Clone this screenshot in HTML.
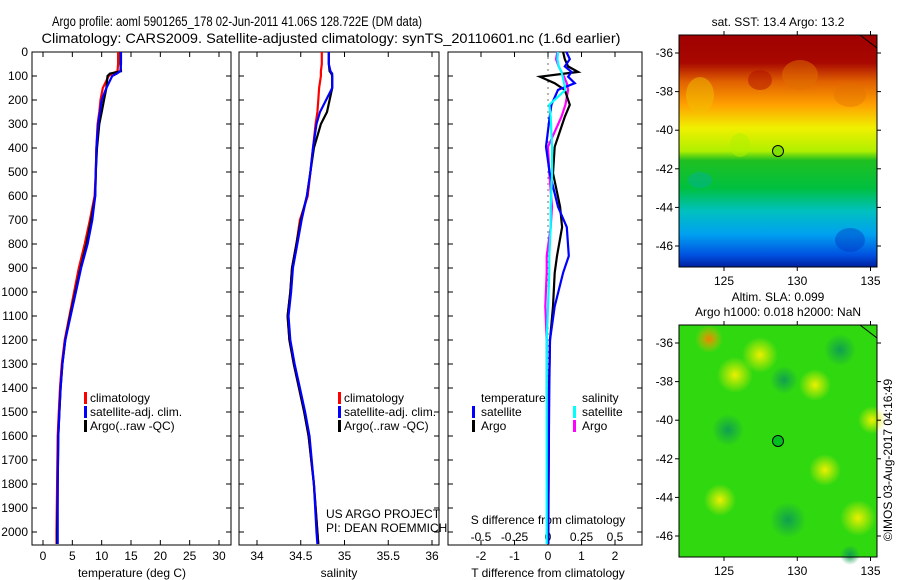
<!DOCTYPE html>
<html><head><meta charset="utf-8"><style>
html,body{margin:0;padding:0;background:#fff;}
svg{display:block;font-family:"Liberation Sans",sans-serif;}
</style></head><body>
<svg id="fig" width="900" height="580" viewBox="0 0 900 580">
<defs>
<linearGradient id="sstgrad" x1="0" y1="0" x2="0" y2="1">
<stop offset="0" stop-color="#a00000"/><stop offset="0.12" stop-color="#a80800"/>
<stop offset="0.2" stop-color="#e06000"/><stop offset="0.3" stop-color="#ffa000"/>
<stop offset="0.4" stop-color="#f0f000"/><stop offset="0.5" stop-color="#b0f000"/>
<stop offset="0.54" stop-color="#20c020"/><stop offset="0.66" stop-color="#00c040"/>
<stop offset="0.76" stop-color="#00c0c0"/><stop offset="0.86" stop-color="#00a0f0"/>
<stop offset="0.95" stop-color="#0050e0"/><stop offset="1" stop-color="#0020a0"/>
</linearGradient>
<radialGradient id="yb"><stop offset="0" stop-color="#eaf000"/><stop offset="1" stop-color="#eaf000" stop-opacity="0"/></radialGradient>
<radialGradient id="gb"><stop offset="0" stop-color="#10a050"/><stop offset="1" stop-color="#10a050" stop-opacity="0"/></radialGradient>
<radialGradient id="ob"><stop offset="0" stop-color="#f08000"/><stop offset="1" stop-color="#f0c000" stop-opacity="0"/></radialGradient>
</defs>
<text x="237" y="26" font-size="14" text-anchor="middle" textLength="370" lengthAdjust="spacingAndGlyphs">Argo profile: aoml 5901265_178 02-Jun-2011 41.06S 128.722E (DM data)</text>
<text x="331" y="43" font-size="14" text-anchor="middle" textLength="579" lengthAdjust="spacingAndGlyphs">Climatology: CARS2009. Satellite-adjusted climatology: synTS_20110601.nc (1.6d earlier)</text>
<g id="plots"></g>
<!-- SST map -->
<g>
<text x="778" y="26" font-size="12" text-anchor="middle">sat. SST: 13.4 Argo: 13.2</text>
<rect x="679" y="35" width="198" height="232" fill="url(#sstgrad)"/>
<ellipse cx="700" cy="95" rx="14" ry="18" fill="#f0c000" opacity="0.5"/>
<ellipse cx="800" cy="75" rx="18" ry="15" fill="#e07000" opacity="0.5"/>
<ellipse cx="760" cy="80" rx="12" ry="10" fill="#b01000" opacity="0.5"/>
<ellipse cx="850" cy="95" rx="16" ry="12" fill="#e07000" opacity="0.4"/>
<ellipse cx="700" cy="180" rx="12" ry="8" fill="#00b0b0" opacity="0.4"/>
<ellipse cx="850" cy="240" rx="15" ry="12" fill="#0030c0" opacity="0.4"/>
<ellipse cx="740" cy="145" rx="10" ry="12" fill="#b0f000" opacity="0.5"/>
<line x1="860" y1="35" x2="877" y2="48" stroke="#000" stroke-width="1"/>
<circle cx="778" cy="151" r="5.5" fill="#80e000" stroke="#000" stroke-width="1"/>
<rect x="679" y="35" width="198" height="232" fill="none" stroke="#000"/>
</g>
<!-- SLA map -->
<g>
<text x="778" y="301" font-size="12" text-anchor="middle">Altim. SLA: 0.099</text>
<text x="778" y="316" font-size="12" text-anchor="middle">Argo h1000: 0.018 h2000: NaN</text>
<rect x="679" y="325" width="198" height="232" fill="#30d810"/>
<circle cx="709" cy="339" r="14" fill="url(#ob)"/>
<circle cx="760" cy="355" r="18" fill="url(#yb)"/>
<circle cx="815" cy="385" r="16" fill="url(#yb)"/>
<circle cx="735" cy="375" r="18" fill="url(#yb)"/>
<circle cx="720" cy="500" r="16" fill="url(#yb)"/>
<circle cx="825" cy="470" r="16" fill="url(#yb)"/>
<circle cx="858" cy="518" r="18" fill="url(#yb)"/>
<circle cx="872" cy="420" r="14" fill="url(#yb)"/>
<circle cx="728" cy="430" r="16" fill="url(#gb)"/>
<circle cx="784" cy="380" r="14" fill="url(#gb)"/>
<circle cx="788" cy="520" r="18" fill="url(#gb)"/>
<circle cx="840" cy="350" r="16" fill="url(#gb)"/>
<circle cx="850" cy="555" r="10" fill="url(#gb)"/>
<line x1="860" y1="325" x2="877" y2="338" stroke="#000" stroke-width="1"/>
<circle cx="778" cy="441" r="5.5" fill="#00c020" stroke="#000" stroke-width="1"/>
<rect x="679" y="325" width="198" height="232" fill="none" stroke="#000"/>
</g>
<g id="maps"></g>
<text transform="translate(892,460) rotate(-90)" font-size="12" text-anchor="middle">©IMOS 03-Aug-2017 04:16:49</text>
</svg>
<script>
// ---- data ----
const depths = [0,50,80,90,100,150,200,250,300,400,500,600,700,800,900,1000,1100,1200,1300,1400,1500,1600,1800,2000,2050];
const tempClim = [12.8,12.8,12.7,11.8,11.2,10.2,9.8,9.6,9.3,9.1,9.0,8.8,8.0,7.1,6.1,5.3,4.5,3.7,3.2,2.9,2.7,2.5,2.4,2.3,2.3];
const tempSat  = [13.3,13.3,13.2,12.6,11.8,10.8,10.0,9.7,9.4,9.1,9.0,8.9,8.4,7.6,6.5,5.6,4.7,3.8,3.3,3.0,2.8,2.6,2.5,2.5,2.5];
const tempArgo = [13.2,13.2,13.3,11.4,11.0,10.8,10.4,10.0,9.6,9.2,9.0,8.9,8.2,7.4,6.4,5.5,4.6,3.8,3.3,3.0,2.8,2.6,2.5,2.4,2.4];
const salClim = [34.74,34.74,34.73,34.73,34.73,34.71,34.70,34.69,34.67,34.64,34.61,34.58,34.49,34.45,34.40,34.38,34.35,34.37,34.42,34.48,34.54,34.59,34.65,34.69,34.70];
const salSat  = [34.82,34.82,34.84,34.86,34.86,34.86,34.79,34.72,34.68,34.64,34.61,34.57,34.51,34.46,34.41,34.39,34.36,34.38,34.43,34.49,34.55,34.60,34.65,34.68,34.69];
const salArgo = [34.82,34.82,34.83,34.85,34.86,34.86,34.83,34.80,34.73,34.65,34.61,34.57,34.50,34.45,34.40,34.38,34.35,34.37,34.42,34.48,34.54,34.59,34.65,34.69,34.70];
const diffDepths = [0,30,60,83,103,130,158,220,270,395,505,645,730,850,920,1060,1200,1400,1700,2050];
const dTsat  = [0.55,0.65,0.5,0.7,0.6,0.8,0.3,0.1,0.05,-0.06,0.05,0.3,0.56,0.62,0.45,0.2,0.06,0.04,0.02,0.0];
const dTargo = [0.45,0.5,0.6,0.9,-0.24,0.2,0.5,0.65,0.5,0.2,0.15,0.36,0.42,0.27,0.2,0.15,0.06,0.03,0.02,0.01];
const dSsat  = [0.075,0.07,0.08,0.1,0.11,0.12,0.13,0.01,0.02,0.03,0.03,0.02,0.02,0.01,0.01,0.0,-0.01,-0.01,-0.01,-0.01];
const dSargo = [0.07,0.06,0.08,0.1,0.12,0.14,0.15,0.13,0.1,0.0,0.01,0.03,0.02,-0.01,-0.01,-0.02,-0.01,-0.01,0.0,0.0];
const depthTicks = [0,100,200,300,400,500,600,700,800,900,1000,1100,1200,1300,1400,1500,1600,1700,1800,1900,2000];
const tempTicks = [0,5,10,15,20,25,30];
const salTicks = [34,34.5,35,35.5,36];
const salTickLabels = ["34","34.5","35","35.5","36"];
const tdTicks = [-2,-1,0,1,2];
const sdTicks = [-0.5,-0.25,0,0.25,0.5];
const latTicks = [-36,-38,-40,-42,-44,-46];
const lonTicks = [125,130,135];

const NS="http://www.w3.org/2000/svg";
const g=document.getElementById('plots');
function mk(tag,attrs,parent){const e=document.createElementNS(NS,tag);for(const k in attrs)e.setAttribute(k,attrs[k]);(parent||g).appendChild(e);return e;}
const top0=52, bot=545;
const yD=d=>top0+d*0.24;
const xT=v=>43+v*(176/30);
const xS=v=>257+(v-34)*87.5;
const xTd=v=>548+v*33.5;
const xSd=v=>548+v*134;

function frame(x0,x1,name){
  const r=mk('rect',{x:x0,y:top0,width:x1-x0,height:bot-top0,fill:'none',stroke:'#000','stroke-width':1});
  
  
  depthTicks.forEach(d=>{mk('line',{x1:x0,y1:yD(d),x2:x0+5,y2:yD(d),stroke:'#000'});mk('line',{x1:x1-5,y1:yD(d),x2:x1,y2:yD(d),stroke:'#000'});});
}
function line(xs,vals,ds,fx,color,name){
  let pts=[];for(let i=0;i<vals.length;i++)pts.push(fx(vals[i]).toFixed(1)+','+yD(ds[i]).toFixed(1));
  const p=mk('polyline',{points:pts.join(' '),fill:'none',stroke:color,'stroke-width':2.2});
  
  
}
function txt(x,y,s,anchor,name,size,parent){
  const t=mk('text',{x:x,y:y,'font-size':size||12,'text-anchor':anchor||'start'},parent);t.textContent=s;
  
  
  return t;
}
function xticks(x0ticks,fx,labels,ly,name){
  x0ticks.forEach((v,i)=>{const x=fx(v);mk('line',{x1:x,y1:bot,x2:x,y2:bot-5,stroke:'#000'});mk('line',{x1:x,y1:top0,x2:x,y2:top0+5,stroke:'#000'});
    txt(x,ly,labels[i],'middle',name+'-label');});
}
// panel 1
frame(32,231,'temperature-panel');
depthTicks.forEach(d=>txt(28,yD(d)+4,String(d),'end','depth-tick-label'));
xticks(tempTicks,xT,tempTicks.map(String),560,'temperature-tick');
txt(132,577,'temperature (deg C)','middle','temperature-axis-title');
line(0,tempClim,depths,xT,'#ff0000','temperature-climatology-line');
line(0,tempArgo,depths,xT,'#000000','temperature-argo-line');
line(0,tempSat,depths,xT,'#0000ff','temperature-satellite-line');
// panel 2
frame(239,439,'salinity-panel');
xticks(salTicks,xS,salTickLabels,560,'salinity-tick');
txt(339,577,'salinity','middle','salinity-axis-title');
line(0,salClim,depths,xS,'#ff0000','salinity-climatology-line');
line(0,salArgo,depths,xS,'#000000','salinity-argo-line');
line(0,salSat,depths,xS,'#0000ff','salinity-satellite-line');
// legends 1/2
[[84,'temperature'],[338,'salinity']].forEach(([lx,p])=>{
  [['#ff0000','climatology',402],['#0000ff','satellite-adj. clim.',416],['#000000','Argo(..raw -QC)',430]].forEach(([c,s,y])=>{
    mk('rect',{x:lx,y:y-10,width:3,height:12,fill:c});
    txt(lx+6,y,s,'start',p+'-legend-'+s.split(/[^a-z]/)[0]);
  });
});
txt(326,518,'US ARGO PROJECT','start','project-credit');
txt(326,532,'PI: DEAN ROEMMICH','start','pi-credit');
// panel 3
frame(448,642,'difference-panel');
for(let d=0;d<=2050;d+=25){mk('circle',{cx:548,cy:yD(d),r:0.6,fill:'#000'});}
tdTicks.forEach(v=>{const x=xTd(v);mk('line',{x1:x,y1:bot,x2:x,y2:bot-5,stroke:'#000'});mk('line',{x1:x,y1:top0,x2:x,y2:top0+5,stroke:'#000'});txt(x,560,String(v),'middle','t-diff-tick-label');});
sdTicks.forEach(v=>txt(xSd(v),541,String(v),'middle','s-diff-tick-label'));
txt(548,524,'S difference from climatology','middle','s-diff-axis-title');
txt(548,577,'T difference from climatology','middle','t-diff-axis-title');
line(0,dSargo,diffDepths,xSd,'#ff00ff','s-diff-argo-line');
line(0,dTargo,diffDepths,xTd,'#000000','t-diff-argo-line');
line(0,dTsat,diffDepths,xTd,'#0000ff','t-diff-satellite-line');
line(0,dSsat,diffDepths,xSd,'#00ffff','s-diff-satellite-line');
txt(481,402,'temperature','start','diff-legend-temperature-heading');
txt(582,402,'salinity','start','diff-legend-salinity-heading');
[['#0000ff',472,'satellite',416,'t'],['#000000',472,'Argo',430,'t'],['#00ffff',573,'satellite',416,'s'],['#ff00ff',573,'Argo',430,'s']].forEach(([c,x,s,y,k])=>{
  mk('rect',{x:x,y:y-10,width:3,height:12,fill:c});
  txt(x+9,y,s,'start','diff-legend-'+k+'-'+s.toLowerCase());
});
// map axes
const mg=document.getElementById('maps');
const mx=v=>724+(v-125)*14.65;
[35,325].forEach((t0,mi)=>{
  latTicks.forEach(v=>{const y=t0+18+(-36-v)*19.3;
    mk('line',{x1:679,y1:y,x2:675,y2:y,stroke:'#000'},mg);
    mk('line',{x1:877,y1:y,x2:881,y2:y,stroke:'#000'},mg);
    txt(673,y+4,String(v),'end','map-lat-tick-label',12,mg);});
  lonTicks.forEach(v=>{const x=mx(v);
    mk('line',{x1:x,y1:t0,x2:x,y2:t0-4,stroke:'#000'},mg);
    mk('line',{x1:x,y1:t0+232,x2:x,y2:t0+236,stroke:'#000'},mg);
    txt(x,t0+250,String(v),'middle','map-lon-tick-label',12,mg);});
});
</script>
</body></html>
